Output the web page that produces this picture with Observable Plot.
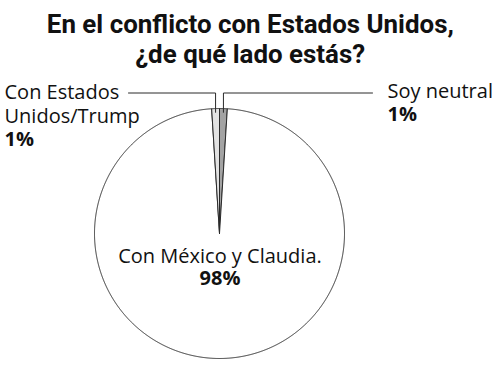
<!DOCTYPE html>
<html>
<head>
<meta charset="utf-8">
<script src="https://cdn.jsdelivr.net/npm/d3@7"></script>
<script src="https://cdn.jsdelivr.net/npm/@observablehq/plot@0.6"></script>
<style>
  html, body { margin: 0; padding: 0; background: #fff; }
  #title {
    box-sizing: border-box; width: 500px; height: 70px; padding-top: 9px;
    text-align: center; font-family: Roboto, "Liberation Sans", sans-serif;
    font-weight: 700; font-size: 25.5px; line-height: 30px; color: #111;
  }
  #title span { display: inline-block; white-space: nowrap; transform-origin: 50% 50%; }
</style>
</head>
<body>
<div id="title"><span id="t1"></span><br><span id="t2"></span></div>
<div id="chart"></div>
<script>
// ---- data ----
const titleLines = ["En el conflicto con Estados Unidos,", "¿de qué lado estás?"];
const categories = ["Soy neutral", "Con México y Claudia.", "Con Estados\nUnidos/Trump"];
const values = [1, 98, 1];
const percentLabels = ["1%", "98%", "1%"];
const sliceFills = ["#a3a3a3", "#ffffff", "#e2e2e2"];

// ---- layout (unit-circle coordinates, y up) ----
const labelLayout = [
  {nameX: 1.344, nameY: 1.088, pctY: 0.904, anchor: "start", leaderEndX: 1.224},
  {nameX: 0.004, nameY: -0.238, pctY: -0.41, anchor: "middle", leaderEndX: null},
  {nameX: -1.72, nameY: 0.886, pctY: 0.698, anchor: "start", leaderEndX: -0.728}
];
const elbowY = 1.124;

// title
document.getElementById("t1").textContent = titleLines[0];
document.getElementById("t2").textContent = titleLines[1];

// ---- pie geometry ----
const arcs = d3.pie().sort(null).value(d => d)(values);
const slicePts = [];
arcs.forEach((a, i) => {
  const c = categories[i];
  slicePts.push({c, x: 0, y: 0});
  const n = Math.max(2, Math.ceil((a.endAngle - a.startAngle) / (Math.PI / 720)));
  for (let k = 0; k <= n; k++) {
    const t = a.startAngle + (a.endAngle - a.startAngle) * k / n;
    slicePts.push({c, x: Math.sin(t), y: Math.cos(t)});
  }
  slicePts.push({c, x: 0, y: 0});
});

const leaderPts = [];
arcs.forEach((a, i) => {
  const L = labelLayout[i];
  if (L.leaderEndX == null) return;
  const m = (a.startAngle + a.endAngle) / 2;
  const c = categories[i];
  leaderPts.push({c, x: Math.sin(m), y: Math.cos(m) * 0.97});
  leaderPts.push({c, x: Math.sin(m), y: elbowY});
  leaderPts.push({c, x: L.leaderEndX, y: elbowY});
});

const labels = categories.map((c, i) => ({c, pct: percentLabels[i], ...labelLayout[i]}));
const labelMarks = ["start", "middle"].flatMap(anchor => {
  const sub = labels.filter(d => d.anchor === anchor);
  return [
    Plot.text(sub, {x: "nameX", y: "nameY", text: "c", textAnchor: anchor, lineAnchor: "bottom",
      lineHeight: 1.2, fontSize: 20, fill: "#111"}),
    Plot.text(sub, {x: "nameX", y: "pctY", text: "pct", textAnchor: anchor,
      lineAnchor: "bottom", fontSize: 20, fontWeight: 700, fill: "#111"})
  ];
});

const chart = Plot.plot({
  width: 500,
  height: 309,
  margin: 0,
  style: {fontFamily: "'Open Sans', sans-serif", fontSize: "20px", color: "#111", background: "#fff"},
  x: {domain: [-1, 1], range: [94, 344], axis: null},
  y: {domain: [-1, 1], range: [288, 38], axis: null},
  color: {domain: categories, range: sliceFills},
  marks: [
    Plot.line(slicePts, {x: "x", y: "y", z: "c", fill: "c", stroke: "#2a2a2a", strokeWidth: 1, curve: "linear"}),
    Plot.line(leaderPts, {x: "x", y: "y", z: "c", stroke: "#2a2a2a", strokeWidth: 1, curve: "linear"}),
    ...labelMarks
  ]
});
document.getElementById("chart").appendChild(chart);

// condense title to the reference width
const t1 = document.getElementById("t1"), t2 = document.getElementById("t2");
const s = 407 / t1.getBoundingClientRect().width;
t1.style.transform = `scaleX(${s})`;
t2.style.transform = `scaleX(${s})`;
</script>
</body>
</html>
